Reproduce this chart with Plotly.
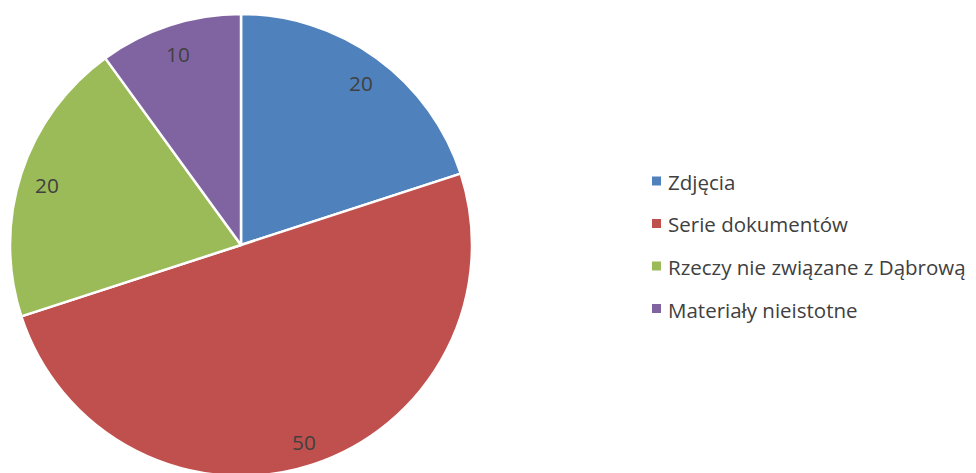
import math
import plotly.graph_objects as go

categories = ["Zdjęcia", "Serie dokumentów", "Rzeczy nie związane z Dąbrową", "Materiały nieistotne"]
values = [20, 50, 20, 10]
colors = ["#4F81BD", "#C0504D", "#9BBB59", "#8064A2"]

W, H = 976, 473
OFF = 8  # page body margin
FONT = "Open Sans"
TXT = "#404040"

# pie geometry (figure pixels)
CX, CY, R = 241 - OFF, 245 - OFF, 231
dom_x = [(CX - R) / W, (CX + R) / W]
dom_y = [1 - (CY + R) / H, 1 - (CY - R) / H]

fig = go.Figure(go.Pie(
    labels=categories, values=values, sort=False, direction="clockwise", rotation=0,
    marker=dict(colors=colors, line=dict(color="white", width=2.5)),
    textinfo="none", hoverinfo="label+value", showlegend=False,
    domain=dict(x=dom_x, y=dom_y),
))

# data labels placed inside each slice near the outer edge
total = sum(values)
cum = 0
annotations = []
for v in values:
    mid = (cum + v / 2) / total * 2 * math.pi
    cum += v
    rr = 0.883 * R
    px = CX + rr * math.sin(mid)
    py = CY - rr * math.cos(mid) + 3
    annotations.append(dict(x=px / W, y=1 - py / H, xref="paper", yref="paper",
                            xanchor="center", yanchor="middle",
                            text=str(v), showarrow=False,
                            font=dict(family=FONT, size=20.8, color=TXT)))

# legend
shapes = []
sq_x0 = 652 - OFF
sq = 9
y0 = 182 - OFF
step = 42.5
for i, (c, col) in enumerate(zip(categories, colors)):
    yc = y0 + i * step
    shapes.append(dict(type="rect", xref="paper", yref="paper",
                       x0=sq_x0 / W, x1=(sq_x0 + sq) / W,
                       y0=1 - (yc - 1 + sq / 2) / H, y1=1 - (yc - 1 - sq / 2) / H,
                       fillcolor=col, line=dict(width=0)))
    annotations.append(dict(x=(666 - OFF) / W, y=1 - yc / H, xref="paper", yref="paper",
                            xanchor="left", yanchor="middle", showarrow=False,
                            text=c, font=dict(family=FONT, size=20.5, color=TXT)))

fig.update_layout(
    width=W, height=H, margin=dict(l=0, r=0, t=0, b=0),
    paper_bgcolor="white", plot_bgcolor="white",
    annotations=annotations, shapes=shapes,
)
fig.write_html("out.html")
